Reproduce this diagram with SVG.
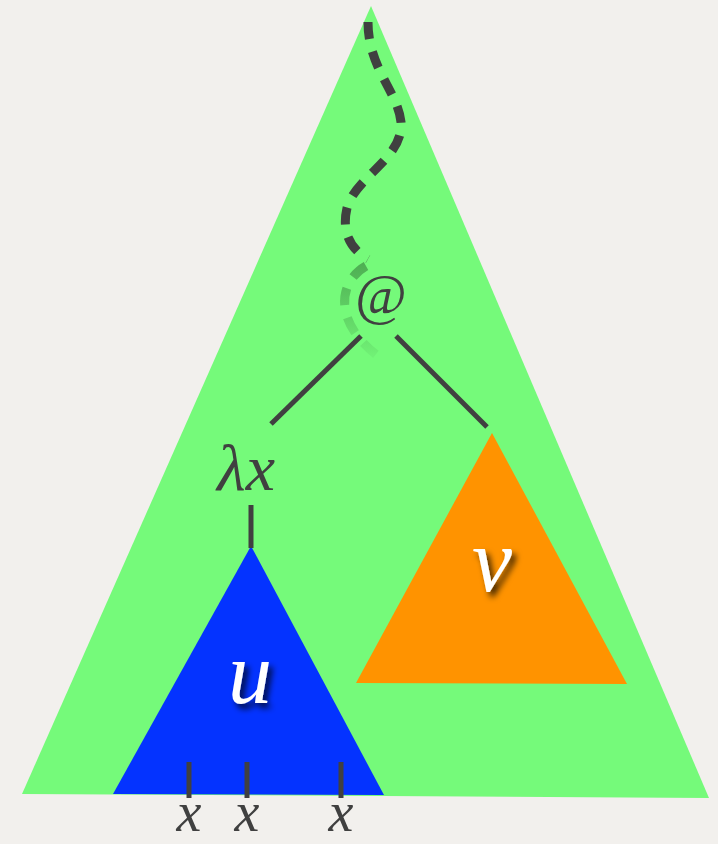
<svg xmlns="http://www.w3.org/2000/svg" width="718" height="844" viewBox="0 0 718 844">
<defs>
<style>
.edge{stroke:#404040;stroke-width:5;fill:none}
.dash{stroke:#404040;stroke-width:9;fill:none;stroke-dasharray:17,13}
.fade{stroke:url(#fade);stroke-width:9;fill:none;stroke-dasharray:17,13}
.lbl{font-family:"Liberation Serif",serif;font-style:italic;fill:#404040}
.at{font-family:"Liberation Serif",serif;fill:#404040}
.big{font-family:"Liberation Serif",serif;font-style:italic;fill:#ffffff;filter:url(#sh)}
</style>
<filter id="sh" x="-50%" y="-50%" width="200%" height="200%">
<feDropShadow dx="4" dy="5" stdDeviation="3" flood-color="#000" flood-opacity="0.75"/>
</filter>
<linearGradient id="fade" gradientUnits="userSpaceOnUse" x1="0" y1="262" x2="0" y2="358">
<stop offset="0" stop-color="#2e6e32" stop-opacity="0.55"/>
<stop offset="1" stop-color="#2e6e32" stop-opacity="0.05"/>
</linearGradient>
</defs>
<rect width="718" height="844" fill="#f2f0ed"/>
<g id="outer"><polygon points="371,6 22,794 709,798" fill="#75fa7a"/></g>
<g id="u-tree"><polygon points="251,546 113,794 384,795" fill="#0433ff"/>
<text class="big" x="250" y="703" font-size="88" text-anchor="middle">u</text></g>
<g id="v-tree"><polygon points="492,433 356,683 627,684" fill="#ff9300"/>
<text class="big" x="492" y="591" font-size="90" text-anchor="middle">v</text></g>
<g id="app"><text class="at" x="381" y="314" font-size="56" text-anchor="middle">@</text></g>
<g id="lam"><text class="lbl" x="246" y="490" font-size="66" text-anchor="middle">λx</text></g>
<g id="vars">
<text class="lbl" x="189" y="831" font-size="56" text-anchor="middle">x</text>
<text class="lbl" x="247" y="831" font-size="56" text-anchor="middle">x</text>
<text class="lbl" x="341" y="831" font-size="56" text-anchor="middle">x</text>
</g>
<g id="connectors">
<path class="dash" d="M368,22 C368,68 398,92 401,122 C404,158 356,176 347,208 C341,234 352,250 368,259"/>
<path class="fade" d="M366,266 C338,282 333,322 378,356"/>
<line class="edge" x1="361" y1="336" x2="271" y2="424"/>
<line class="edge" x1="396" y1="336" x2="487" y2="427"/>
<line class="edge" x1="251" y1="505" x2="251" y2="548"/>
<line class="edge" x1="189" y1="762" x2="189" y2="798"/>
<line class="edge" x1="247" y1="762" x2="247" y2="798"/>
<line class="edge" x1="341" y1="762" x2="341" y2="798"/>
</g>
</svg>
